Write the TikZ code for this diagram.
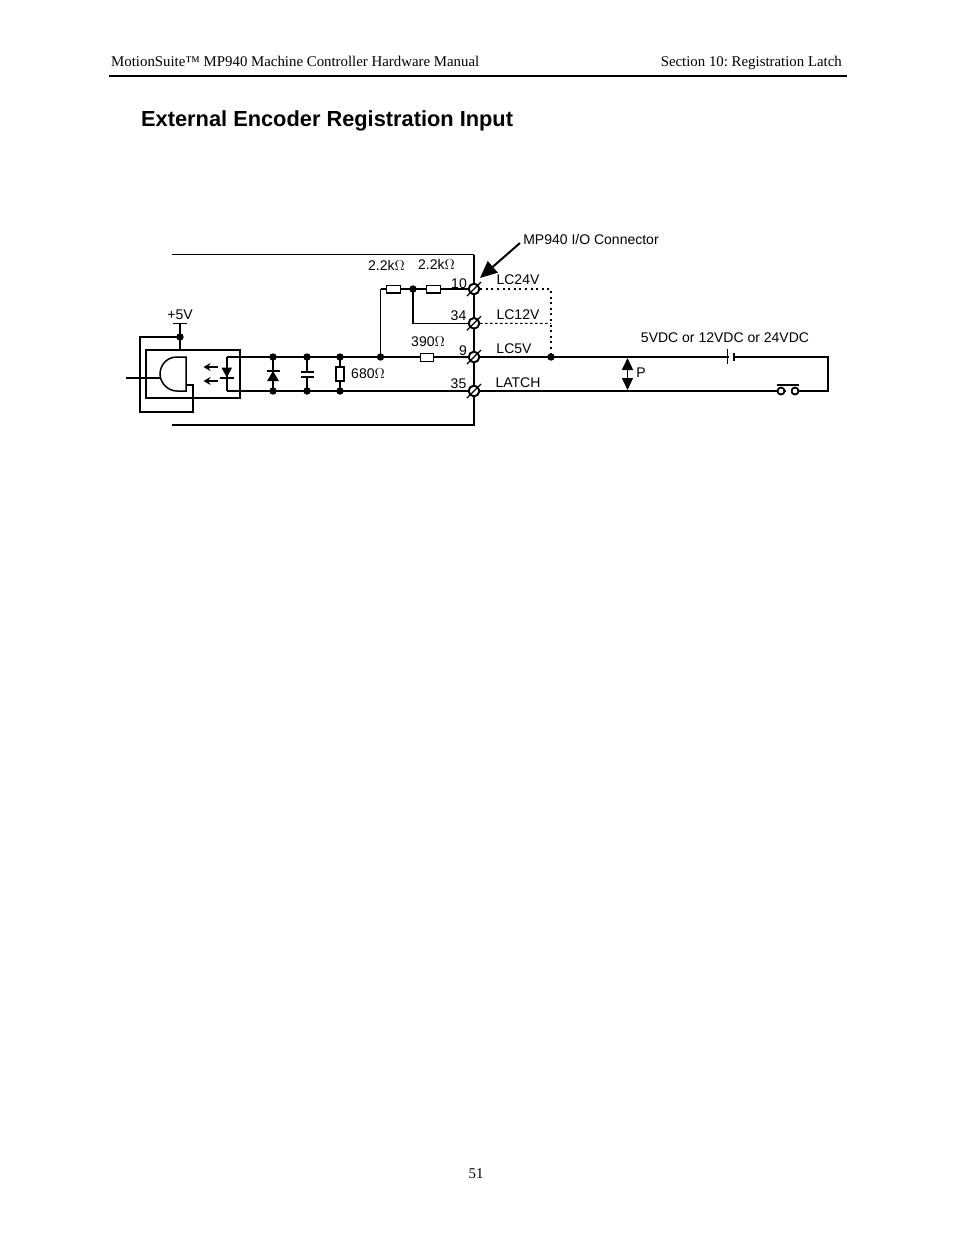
\documentclass[tikz,border=0pt]{standalone}
\usepackage{fontspec}
\setmainfont{Liberation Serif}
\setsansfont{Liberation Sans}
\usetikzlibrary{arrows.meta}
\frenchspacing

\tikzset{
  wire/.style={line width=2pt},
  midwire/.style={line width=1.5pt},
  thinwire/.style={line width=1.1pt},
  lbl/.style={inner sep=0pt,anchor=base,font=\sffamily\fontsize{14}{14}\selectfont},
  hdr/.style={inner sep=0pt,anchor=base,font=\fontsize{14.85}{15}\selectfont},
  res/.style={draw,fill=white,line width=1.5pt,rectangle,inner sep=0pt,minimum width=#1},
  res/.default=14pt,
  term/.style={draw,fill=white,line width=1.8pt,circle,inner sep=0pt,minimum size=10.5pt},
  contact/.style={draw,fill=white,line width=1.8pt,circle,inner sep=0pt,minimum size=7pt}
}

\begin{document}
\begin{tikzpicture}[x=1pt,y=-1pt]
    \useasboundingbox (0,0) rectangle (954,1235);

    % page header
    \node[hdr,anchor=base west] (head) at (111,66) {MotionSuite™ MP940 Machine Controller Hardware Manual};
    \node[hdr,anchor=base east] (sect) at (842,66) {Section 10: Registration Latch};
    \coordinate (RL) at (109,76);
    \coordinate (RR) at (847,76);
    \draw[line width=2pt] (RL) -- (RR);
    \node[inner sep=0pt,anchor=base west,font=\sffamily\bfseries\fontsize{21.8}{22}\selectfont] (title) at (141,126) {External Encoder Registration Input};
    \node[hdr] (page) at (476,1178) {51};

    % points
    \coordinate (A) at (172,254.5);
    \coordinate (B) at (474,254.5);
    \coordinate (C) at (474,425);
    \coordinate (D) at (172,425);
    \coordinate (V1) at (173,323.5);
    \coordinate (V2) at (187,323.5);
    \coordinate (V3) at (180,323.5);
    \coordinate (V) at (180,337);
    \coordinate (V4) at (180,350);
    \coordinate (W1) at (140,337);
    \coordinate (W2) at (140,411.5);
    \coordinate (W3) at (193,411.5);
    \coordinate (W4) at (193,384.5);
    \coordinate (W5) at (186,384.5);
    \coordinate (In) at (126,378);
    \coordinate (In2) at (160,378);
    \coordinate (Top) at (227,357);
    \coordinate (Bot) at (227,391);
    \coordinate (E) at (273,357);
    \coordinate (F) at (273,391);
    \coordinate (G) at (307,357);
    \coordinate (H) at (307,391);
    \coordinate (I) at (340,357);
    \coordinate (J) at (340,391);
    \coordinate (K) at (380.5,357);
    \coordinate (L) at (380.5,289);
    \coordinate (M) at (413,289);
    \coordinate (N) at (413,323.3);
    \coordinate (O) at (551,357);
    \coordinate (P1) at (551,289);
    \coordinate (P2) at (551,323.5);
    \coordinate (Q1) at (828,357);
    \coordinate (Q2) at (828,391);

    % terminals
    \node[term] (T10) at (474,289) {};
    \node[term] (T34) at (474,323.3) {};
    \node[term] (T9) at (474,357) {};
    \node[term] (T35) at (474,391) {};

    % optocoupler box
    \node[draw,line width=1.6pt,rectangle,inner sep=0pt,minimum width=94pt,minimum height=48pt] (opto) at (193,374) {};
    \draw[line width=1.5pt,fill=white] (186,357) -- (177,357) .. controls (166,357) and (160,366) .. (160,374) .. controls (160,382) and (167,391) .. (177,391) -- (186,391) -- cycle;
    \draw[wire] (In) -- (In2);
    \draw[wire] (V) -- (W1) -- (W2) -- (W3) -- (W4) -- (W5);
    \draw[thinwire] (V1) -- (V2);
    \draw[midwire] (V3) -- (V4);

    % wiring
    \draw[thinwire] (A) -- (B);
    \draw[wire] (B) -- (C) -- (D);
    \draw[wire] (Top) -- (T9);
    \draw[wire] (Bot) -- (T35);
    \draw[midwire] (Top) -- (Bot);
    \draw[thinwire] (K) -- (L);
    \draw[wire] (L) -- (T10);
    \draw[midwire] (M) -- (N) -- (T34);
    \draw[midwire] (T9) -- (Q1) -- (Q2) -- (T35);
    \draw[line width=1.8pt,dash pattern=on 2pt off 3.6pt] (T10) -- (P1) -- (O);
    \draw[line width=1pt,dash pattern=on 2.5pt off 2.5pt] (T34) -- (P2);
    \foreach \P in {T10,T34,T9,T35} \node[term] at (\P) {};
    \foreach \P in {T10,T34,T9,T35} \draw[line width=1.3pt] ([shift={(-7,7)}]\P.center) -- ([shift={(7,-7)}]\P.center);

    % diode, capacitor, resistors
    \draw[midwire] (E) -- (F);
    \draw[midwire] (G) -- (307,372);
    \draw[midwire] (307,377) -- (H);
    \draw[midwire] (I) -- (J);
    \fill[black] (267,381) -- (279,381) -- (273,371) -- cycle;
    \draw[wire] (266.5,371) -- (279.5,371);
    \draw[wire] (300.5,372) -- (313.5,372);
    \draw[wire] (300.5,377) -- (313.5,377);
    \node[res=8pt,minimum height=14pt] (R680) at (340,374) {};
    \node[res,minimum height=7.5pt] (R1) at (393.7,289) {};
    \node[res,minimum height=7.5pt] (R2) at (433.3,289) {};
    \node[res=13pt,minimum height=8pt] (R390) at (427,357.5) {};

    % LED and light arrows
    \fill[black] (221.5,367.7) -- (232,367.7) -- (226.8,377.5) -- cycle;
    \draw[wire] (220,378) -- (234,378);
    \draw[-{Stealth[length=7pt,width=8pt]},line width=1.1pt] (218,367) -- (203.5,367);
    \draw[-{Stealth[length=7pt,width=8pt]},line width=1.1pt] (218,381) -- (203.5,381);

    \foreach \P in {V,E,F,G,H,I,J,K,M,O} \fill[black] (\P) circle (3.7pt);

    % battery
    \coordinate (Bat1) at (728,357);
    \coordinate (Bat2) at (734,357);
    \fill[white] (729,355) rectangle (733,359);
    \draw[midwire] (727.7,349.3) -- (727.7,364.3);
    \draw[wire] (733.7,353.3) -- (733.7,361);

    % switch
    \node[contact] (S1) at (781,391) {};
    \node[contact] (S2) at (795,391) {};
    \fill[white] (785.5,389) rectangle (790.5,393);
    \coordinate (S3) at (777,385);
    \coordinate (S4) at (799,385);
    \draw[midwire] (S3) -- (S4);

    % P arrow
    \coordinate (P3) at (627.5,358);
    \coordinate (P4) at (627.5,390);
    \draw[{Triangle[length=12pt,width=11pt]}-{Triangle[length=12pt,width=11pt]},line width=1.5pt] (P3) -- (P4);

    % connector pointer
    \coordinate (Ptr) at (520,243);
    \coordinate (Ptr2) at (480,278);
    \draw[-{Triangle[length=17pt,width=15pt]},line width=2pt] (Ptr) -- (Ptr2);

    % labels
    \node[lbl] (lb5V) at (180,319) {+5V};
    \node[lbl] (lbR1) at (386.5,270) {2.2k$\Omega$};
    \node[lbl] (lbR2) at (436.5,269) {2.2k$\Omega$};
    \node[lbl] (lb10) at (459,288) {10};
    \node[lbl] (lb34) at (458.5,320.5) {34};
    \node[lbl] (lb9) at (463,355) {9};
    \node[lbl] (lb35) at (458.5,388) {35};
    \node[lbl] (lbR390) at (428,346) {390$\Omega$};
    \node[lbl] (lbR680) at (368,378) {680$\Omega$};
    \node[lbl] (lbLC24) at (518,284) {LC24V};
    \node[lbl] (lbLC12) at (518,319) {LC12V};
    \node[lbl] (lbLC5) at (514,353) {LC5V};
    \node[lbl] (lbLatch) at (518,387) {LATCH};
    \node[lbl] (lbSup) at (725,342) {5VDC or 12VDC or 24VDC};
    \node[lbl] (lbP) at (641,377) {P};
    \node[lbl] (lbConn) at (591,244) {MP940 I/O Connector};
\end{tikzpicture}
\end{document}
